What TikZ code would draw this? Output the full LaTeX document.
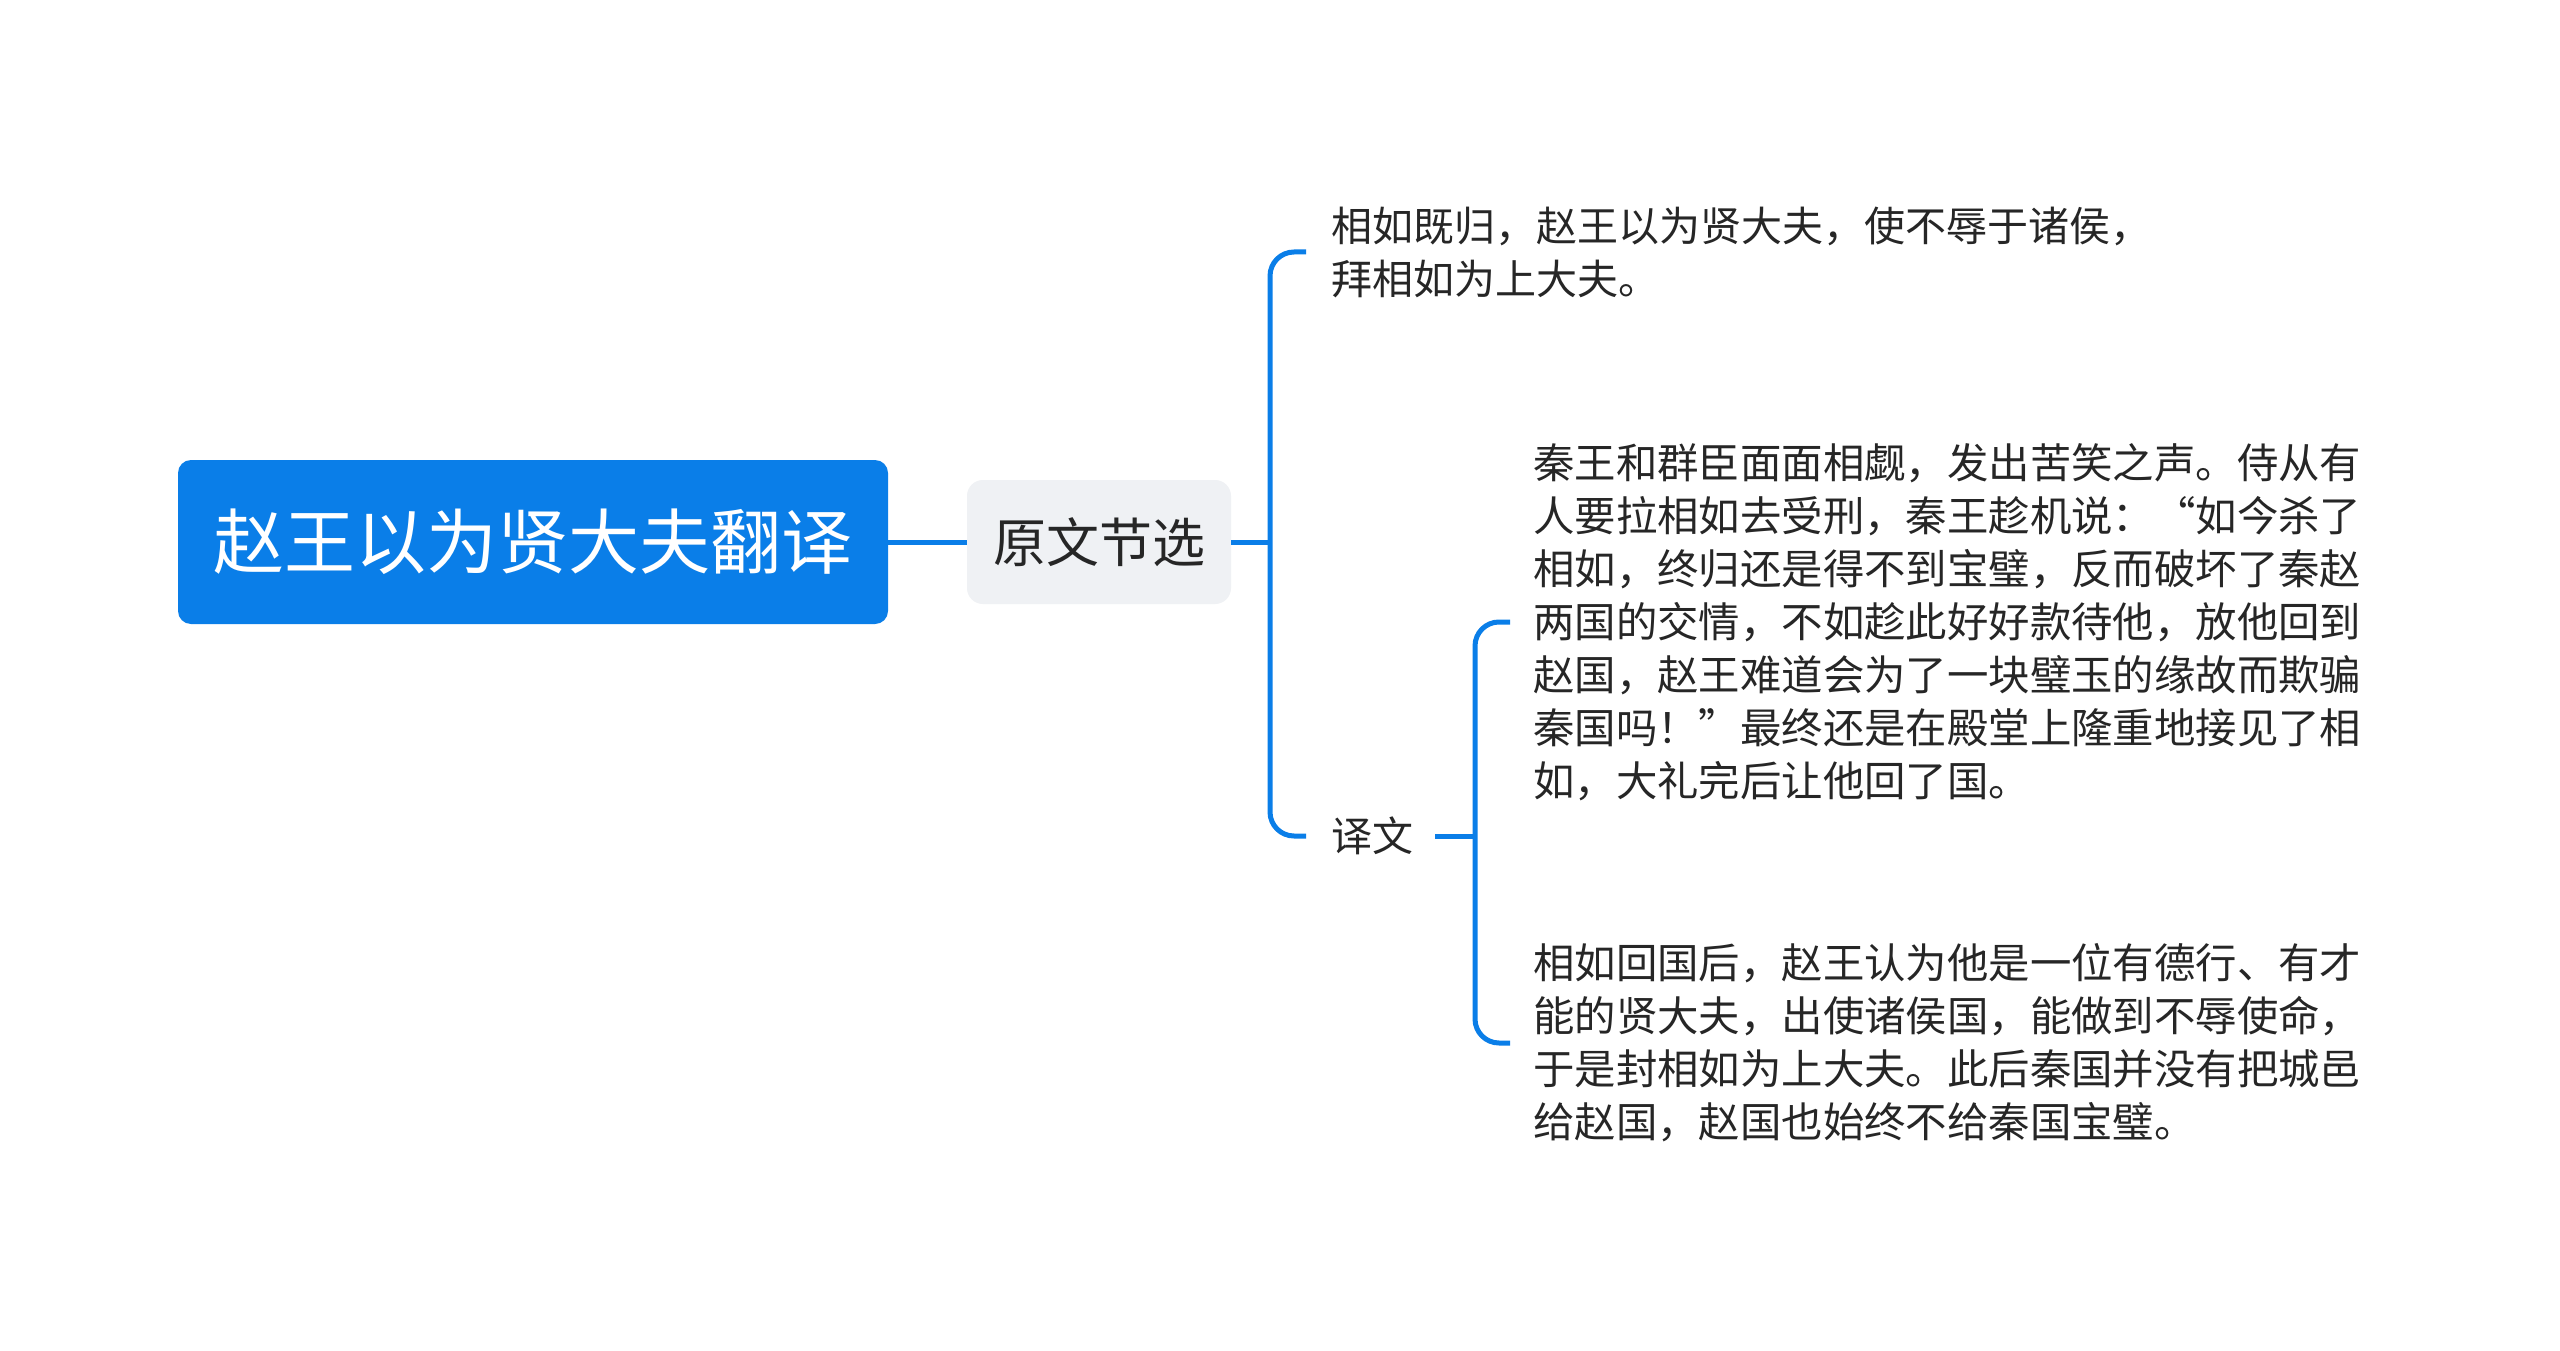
\documentclass[tikz,border=0pt]{standalone}
\usepackage{fontspec}
\setmainfont{Noto Sans CJK SC}
\newfontfamily\cjk{Noto Sans CJK SC}
\definecolor{mainblue}{RGB}{10,126,232}
\definecolor{subgray}{RGB}{239,241,244}
\definecolor{txt}{RGB}{38,38,38}
\begin{document}
\begin{tikzpicture}[x=1pt,y=-1pt,
  rootbox/.style={draw=none,fill=mainblue,rounded corners=13pt,minimum width=710pt,minimum height=164pt,inner sep=0pt,text=white,font=\cjk\fontsize{71}{80}\selectfont},
  subbox/.style={draw=none,fill=subgray,rounded corners=16pt,minimum width=264pt,minimum height=124pt,inner sep=0pt,text=txt,font=\cjk\fontsize{53}{60}\selectfont},
  leaftext/.style={anchor=west,inner sep=0pt,align=left,text=txt,font=\cjk\fontsize{41}{53}\selectfont},
  leaftextb/.style={anchor=west,inner sep=0pt,align=left,text=txt,font=\cjk\fontsize{41.4}{53}\selectfont},
  conn/.style={draw=mainblue,line width=5pt},
  bracket/.style={draw=mainblue,line width=5pt,rounded corners=24pt}
]
\useasboundingbox[fill=white] (0,0) rectangle (2560,1351);

\node[rootbox] (root) at (533,542) {赵王以为贤大夫翻译};
\node[subbox] (yw) at (1099,542) {原文节选};

\node[leaftext] (top) at (1331,252) {相如既归，赵王以为贤大夫，使不辱于诸侯，\\拜相如为上大夫。};
\node[leaftext] (yiwen) at (1331,836) {译文};

\node[leaftextb] (la) at (1533,622) {秦王和群臣面面相觑，发出苦笑之声。侍从有\\人要拉相如去受刑，秦王趁机说：“如今杀了\\相如，终归还是得不到宝璧，反而破坏了秦赵\\两国的交情，不如趁此好好款待他，放他回到\\赵国，赵王难道会为了一块璧玉的缘故而欺骗\\秦国吗！”最终还是在殿堂上隆重地接见了相\\如，大礼完后让他回了国。};
\node[leaftextb] (lb) at (1533,1043) {相如回国后，赵王认为他是一位有德行、有才\\能的贤大夫，出使诸侯国，能做到不辱使命，\\于是封相如为上大夫。此后秦国并没有把城邑\\给赵国，赵国也始终不给秦国宝璧。};

\coordinate (b1) at (1270,542);
\coordinate (b2) at (1475,836);

\draw[conn] (root.east) -- (yw.west);
\draw[conn] (yw.east) -- (b1);
\draw[bracket] ([xshift=-25pt]top.west) -| (b1) |- ([xshift=-25pt]yiwen.west);
\draw[conn] ([xshift=22pt]yiwen.east) -- (b2);
\draw[bracket] ([xshift=-23pt]la.west) -| (b2) |- ([xshift=-23pt]lb.west);
\end{tikzpicture}
\end{document}
